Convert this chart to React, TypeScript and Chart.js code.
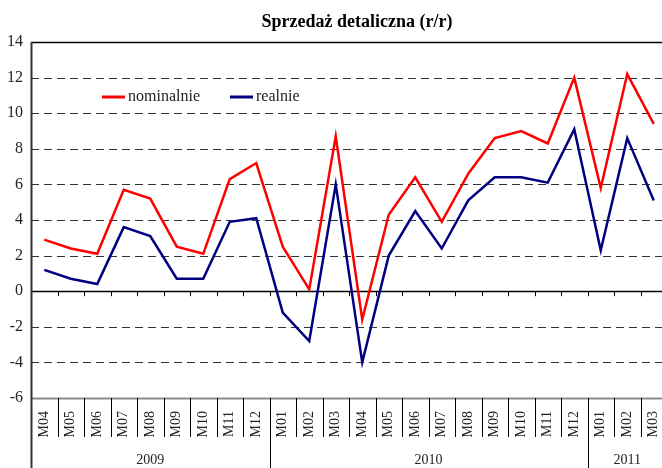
import React, { useEffect, useRef } from 'react';
import { Chart, registerables } from 'chart.js';

Chart.register(...registerables);

const months = ['M04', 'M05', 'M06', 'M07', 'M08', 'M09', 'M10', 'M11', 'M12',
  'M01', 'M02', 'M03', 'M04', 'M05', 'M06', 'M07', 'M08', 'M09', 'M10', 'M11', 'M12',
  'M01', 'M02', 'M03'];
const years = ['2009', '2010', '2011'];
const yearSpans = [9, 12, 3];
const nominalnie = [2.9, 2.4, 2.1, 5.7, 5.2, 2.5, 2.1, 6.3, 7.2,
  2.5, 0.1, 8.7, -1.6, 4.3, 6.4, 3.9, 6.6, 8.6, 9.0, 8.3, 12.0,
  5.8, 12.2, 9.4];
const realnie = [1.2, 0.7, 0.4, 3.6, 3.1, 0.7, 0.7, 3.9, 4.1,
  -1.2, -2.8, 6.0, -4.0, 2.0, 4.5, 2.4, 5.1, 6.4, 6.4, 6.1, 9.1,
  2.3, 8.6, 5.1];
const yTicks = [14, 12, 10, 8, 6, 4, 2, 0, -2, -4, -6];
const seriesNames = ['nominalnie', 'realnie'];
const seriesColors = ['#ff0000', '#000080'];
const titleText = 'Sprzedaż detaliczna (r/r)';

const SERIF = "'Liberation Serif', 'DejaVu Serif', serif";

const decor = {
  id: 'decor',
  beforeDatasetsDraw(chart: any) {
    const { ctx, chartArea: a, scales } = chart;
    const x = scales.x;
    const y = scales.y;
    ctx.save();
    // horizontal lines
    yTicks.forEach((v) => {
      const py = Math.round(y.getPixelForValue(v)) + 0.5;
      ctx.beginPath();
      if (v === 14 || v === 0) {
        ctx.setLineDash([]);
        ctx.strokeStyle = '#000';
        ctx.lineWidth = 1.5;
      } else if (v === -6) {
        ctx.setLineDash([]);
        ctx.strokeStyle = '#8a8a8a';
        ctx.lineWidth = 2;
      } else {
        ctx.setLineDash([8, 5]);
        ctx.strokeStyle = '#333';
        ctx.lineWidth = 1;
      }
      ctx.moveTo(a.left, py);
      ctx.lineTo(a.right, py);
      ctx.stroke();
    });
    ctx.setLineDash([]);
    // ticks under zero line & separators
    const half = (x.getPixelForValue(1) - x.getPixelForValue(0)) / 2;
    const y0 = y.getPixelForValue(0);
    const boundaries: number[] = [];
    for (let i = 0; i <= months.length; i++) {
      boundaries.push(x.getPixelForValue(0) - half + i * 2 * half);
    }
    const yearBounds = new Set<number>();
    let acc = 0;
    yearBounds.add(0);
    yearSpans.forEach((s) => { acc += s; yearBounds.add(acc); });
    ctx.strokeStyle = '#000';
    ctx.lineWidth = 1;
    boundaries.forEach((bx, i) => {
      const px = Math.round(bx) + 0.5;
      ctx.beginPath();
      ctx.moveTo(px, y0);
      ctx.lineTo(px, y0 + 5);
      ctx.stroke();
      if (i === 0) return;
      ctx.beginPath();
      ctx.moveTo(px, a.bottom);
      ctx.lineTo(px, yearBounds.has(i) ? chart.height : a.bottom + 39);
      ctx.stroke();
    });
    // y axis
    ctx.strokeStyle = '#333';
    ctx.lineWidth = 2;
    ctx.beginPath();
    ctx.moveTo(a.left + 0.5, a.top);
    ctx.lineTo(a.left + 0.5, chart.height);
    ctx.stroke();
    // year labels
    ctx.fillStyle = '#222';
    ctx.font = `14px ${SERIF}`;
    ctx.textAlign = 'center';
    ctx.textBaseline = 'middle';
    let start = 0;
    yearSpans.forEach((s, i) => {
      const cx = (boundaries[start] + boundaries[start + s]) / 2;
      ctx.fillText(years[i], cx, a.bottom + 62);
      start += s;
    });
    ctx.restore();
  },
  afterDraw(chart: any) {
    const { ctx, chartArea: a } = chart;
    ctx.save();
    // title
    ctx.fillStyle = '#000';
    ctx.font = `bold 18px ${SERIF}`;
    ctx.textAlign = 'center';
    ctx.textBaseline = 'alphabetic';
    ctx.fillText(titleText, a.left + 326, 27);
    // legend
    ctx.font = `16px ${SERIF}`;
    ctx.textAlign = 'left';
    ctx.textBaseline = 'middle';
    const ly = a.top + 55;
    const offs = [71, 199];
    seriesNames.forEach((n, i) => {
      const lx = a.left + offs[i];
      ctx.strokeStyle = seriesColors[i];
      ctx.lineWidth = 3;
      ctx.beginPath();
      ctx.moveTo(lx, ly);
      ctx.lineTo(lx + 23, ly);
      ctx.stroke();
      ctx.fillStyle = '#222';
      ctx.fillText(n, lx + 26, ly);
    });
    ctx.restore();
  },
};

export default function App() {
  const ref = useRef<HTMLCanvasElement | null>(null);
  useEffect(() => {
    document.body.style.margin = '0';
    const canvas = ref.current!;
    const chart = new Chart(canvas, {
      type: 'line',
      data: {
        labels: months,
        datasets: [
          {
            label: seriesNames[0],
            data: nominalnie,
            borderColor: seriesColors[0],
            backgroundColor: seriesColors[0],
            borderWidth: 2.5,
            pointRadius: 0,
            tension: 0,
            fill: false,
            borderJoinStyle: 'miter',
          },
          {
            label: seriesNames[1],
            data: realnie,
            borderColor: seriesColors[1],
            backgroundColor: seriesColors[1],
            borderWidth: 2.5,
            pointRadius: 0,
            tension: 0,
            fill: false,
            borderJoinStyle: 'miter',
          },
        ],
      },
      options: {
        animation: false,
        responsive: false,
        maintainAspectRatio: false,
        devicePixelRatio: 1,
        layout: { padding: { top: 42, left: 0, right: 0, bottom: 0 } },
        plugins: {
          legend: { display: false },
          title: { display: false },
          tooltip: { enabled: false },
        },
        scales: {
          x: {
            type: 'category',
            offset: true,
            grid: { display: false, drawTicks: false },
            border: { display: false },
            ticks: {
              autoSkip: false,
              minRotation: 90,
              maxRotation: 90,
              padding: 13,
              color: '#222',
              font: { family: SERIF, size: 14 },
            },
            afterFit: (s: any) => {
              s.height = 70;
              s.paddingLeft = 0;
              s.paddingRight = 0;
            },
          },
          y: {
            min: -6,
            max: 14,
            grid: { display: false, drawTicks: false },
            border: { display: false },
            ticks: {
              stepSize: 2,
              padding: 8,
              color: '#222',
              font: { family: SERIF, size: 16 },
            },
            afterFit: (s: any) => {
              s.width = 31;
              s.paddingTop = 0;
              s.paddingBottom = 0;
            },
          },
        },
      },
      plugins: [decor],
    } as any);
    return () => chart.destroy();
  }, []);
  return (
    <div style={{ width: 662, height: 468, overflow: 'hidden', position: 'relative' }}>
      <canvas ref={ref} width={667} height={468} style={{ display: 'block' }} />
    </div>
  );
}
